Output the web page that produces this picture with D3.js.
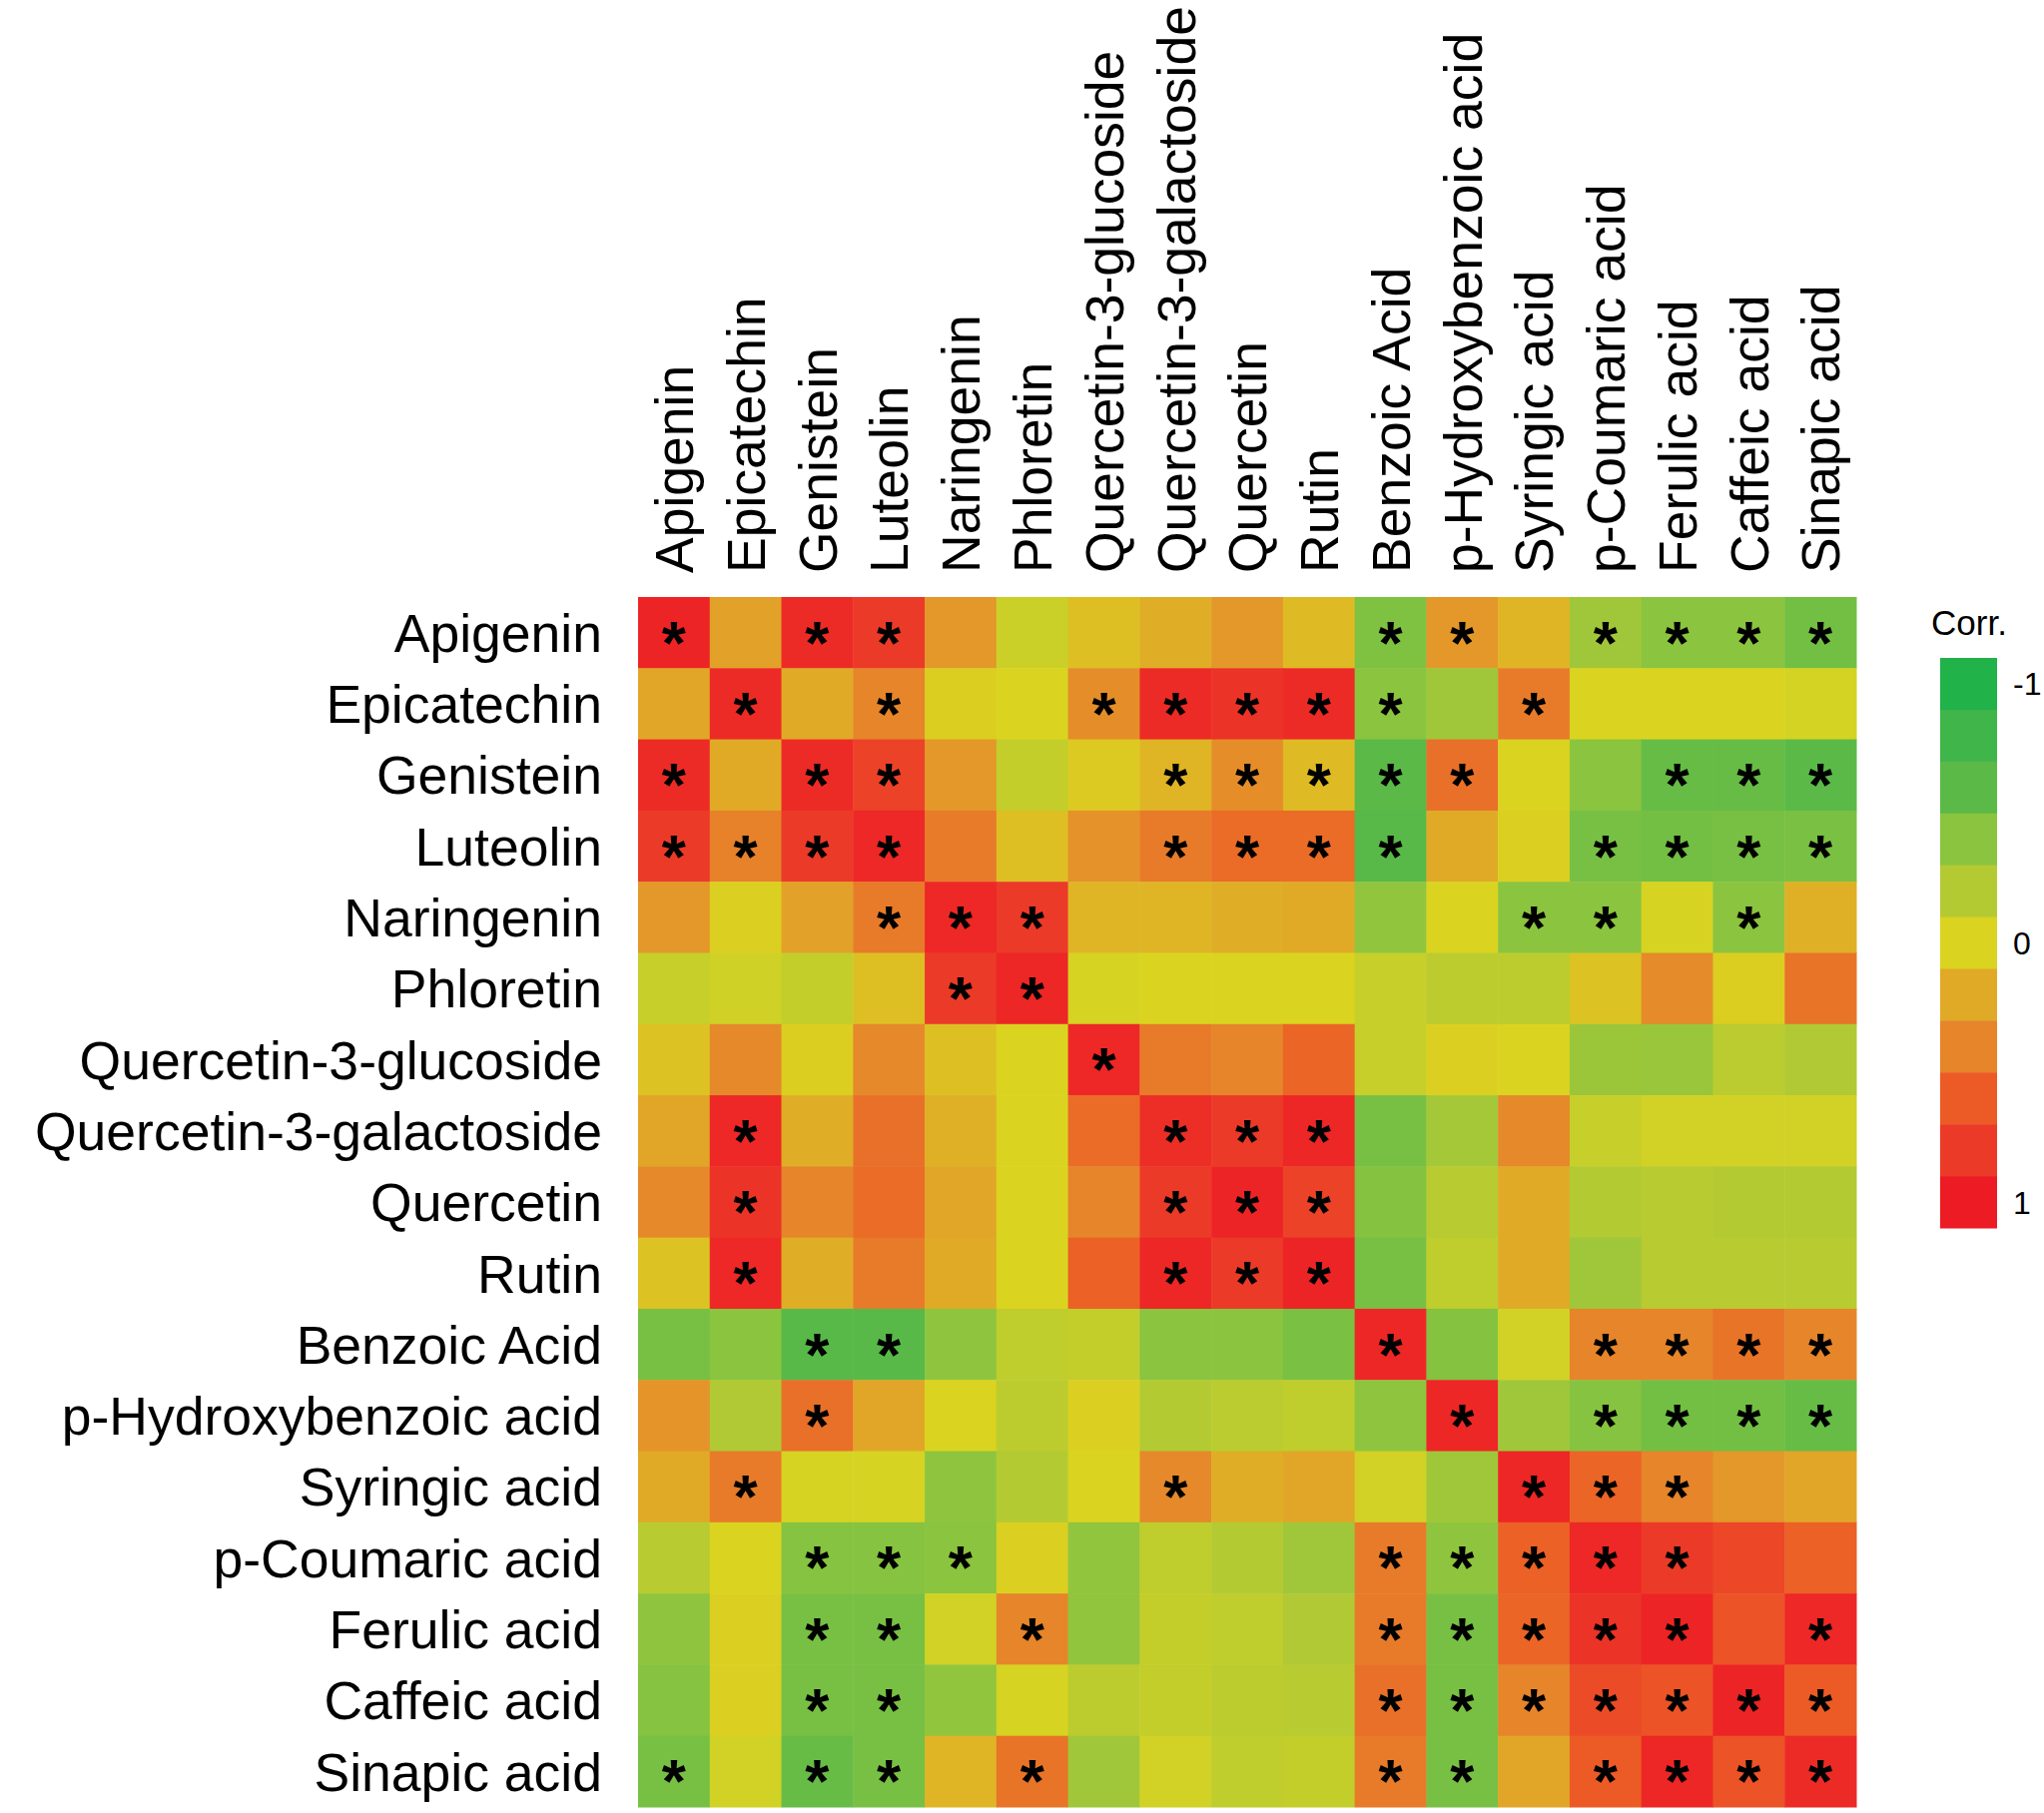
<!DOCTYPE html>
<html>
<head>
<meta charset="utf-8">
<script src="https://cdn.jsdelivr.net/npm/d3@7"></script>
<style>
  body { margin: 0; background: #fff; }
  text { font-family: "Liberation Sans", Arial, sans-serif; fill: #000; }
</style>
</head>
<body>
<div id="chart"></div>
<script>
const width = 2047;
const height = 1816;

const compounds = ['Apigenin', 'Epicatechin', 'Genistein', 'Luteolin', 'Naringenin', 'Phloretin',
  'Quercetin-3-glucoside', 'Quercetin-3-galactoside', 'Quercetin', 'Rutin', 'Benzoic Acid',
  'p-Hydroxybenzoic acid', 'Syringic acid', 'p-Coumaric acid', 'Ferulic acid', 'Caffeic acid', 'Sinapic acid'];

// correlation estimates, one row per compound (same column order)
const apigenin     = [0.95, 0.25, 0.9, 0.8, 0.3, -0.08, 0.1, 0.18, 0.3, 0.12, -0.45, 0.3, 0.15, -0.3, -0.4, -0.4, -0.5];
const epicatechin  = [0.22, 0.9, 0.2, 0.4, 0.03, 0, 0.35, 0.9, 0.85, 0.9, -0.4, -0.3, 0.45, 0, 0, 0, -0.03];
const genistein    = [0.9, 0.2, 0.9, 0.75, 0.3, -0.12, 0.05, 0.15, 0.35, 0.12, -0.6, 0.5, 0, -0.4, -0.55, -0.55, -0.6];
const luteolin     = [0.8, 0.42, 0.8, 0.92, 0.45, 0.1, 0.33, 0.45, 0.52, 0.52, -0.62, 0.2, 0.02, -0.48, -0.5, -0.48, -0.47];
const naringenin   = [0.3, 0.02, 0.25, 0.45, 0.92, 0.8, 0.15, 0.15, 0.18, 0.2, -0.37, 0, -0.4, -0.4, -0.02, -0.4, 0.17];
const phloretin    = [-0.1, -0.06, -0.12, 0.1, 0.8, 0.93, -0.02, 0, 0, 0, -0.1, -0.16, -0.16, 0.08, 0.37, 0.03, 0.48];
const q3glucoside  = [0.08, 0.38, 0.03, 0.38, 0.1, 0, 0.92, 0.45, 0.4, 0.55, -0.1, 0.02, 0, -0.32, -0.33, -0.17, -0.22];
const q3galactoside = [0.22, 0.92, 0.18, 0.5, 0.17, 0, 0.52, 0.88, 0.8, 0.93, -0.48, -0.28, 0.38, -0.1, -0.05, -0.05, -0.05];
const quercetin    = [0.38, 0.85, 0.4, 0.52, 0.22, 0, 0.4, 0.8, 0.95, 0.75, -0.43, -0.18, 0.2, -0.2, -0.18, -0.2, -0.2];
const rutin        = [0.08, 0.92, 0.18, 0.45, 0.2, 0, 0.57, 0.93, 0.8, 0.95, -0.48, -0.14, 0.2, -0.3, -0.18, -0.18, -0.18];
const benzoic      = [-0.48, -0.4, -0.62, -0.62, -0.38, -0.14, -0.12, -0.4, -0.4, -0.47, 0.93, -0.43, -0.05, 0.4, 0.4, 0.48, 0.4];
const hydroxybenz  = [0.32, -0.22, 0.5, 0.22, 0, -0.16, 0.02, -0.2, -0.17, -0.14, -0.38, 0.93, -0.3, -0.42, -0.5, -0.5, -0.55];
const syringic     = [0.2, 0.45, -0.02, -0.02, -0.38, -0.2, 0, 0.38, 0.18, 0.22, -0.05, -0.3, 0.93, 0.55, 0.4, 0.3, 0.22];
const coumaric     = [-0.18, 0, -0.42, -0.42, -0.4, 0.02, -0.37, -0.14, -0.2, -0.3, 0.45, -0.38, 0.57, 0.92, 0.8, 0.72, 0.57];
const ferulic      = [-0.38, 0.02, -0.48, -0.48, -0.05, 0.4, -0.37, -0.12, -0.14, -0.22, 0.45, -0.48, 0.55, 0.85, 0.95, 0.65, 0.92];
const caffeic      = [-0.42, 0.02, -0.48, -0.48, -0.37, -0.02, -0.16, -0.12, -0.16, -0.18, 0.5, -0.48, 0.4, 0.7, 0.65, 0.95, 0.6];
const sinapic      = [-0.48, -0.05, -0.55, -0.48, 0.15, 0.48, -0.3, -0.05, -0.14, -0.12, 0.45, -0.48, 0.22, 0.6, 0.93, 0.65, 0.9];

const corrRows = [apigenin, epicatechin, genistein, luteolin, naringenin, phloretin, q3glucoside,
  q3galactoside, quercetin, rutin, benzoic, hydroxybenz, syringic, coumaric, ferulic, caffeic, sinapic];

// significance marks (1 = asterisk)
const sigRows = [
  '10110000001101111',
  '01010011111010000',
  '10110001111100111',
  '11110001111001111',
  '00011100000011010',
  '00001100000000000',
  '00000010000000000',
  '01000001110000000',
  '01000001110000000',
  '01000001110000000',
  '00110000001001111',
  '00100000000101111',
  '01000001000011100',
  '00111000001111100',
  '00110100001111101',
  '00110000001111111',
  '10110100001101111'
];

const legendSteps = [-1, -0.8, -0.6, -0.4, -0.2, 0, 0.2, 0.4, 0.6, 0.8, 1];
const legendColors = ['#22b24a', '#3fb54a', '#5bb948', '#8bc43f', '#b4ca33', '#dad420',
  '#e0aa27', '#e6852a', '#ec5b25', '#ec3a28', '#ed1c24'];
const legendLabels = ['-1', '0', '1'];

const color = d3.scaleLinear()
  .domain(legendSteps)
  .range(legendColors)
  .clamp(true);

const x = d3.scaleBand()
  .domain(compounds)
  .range([639, 1859]);

const y = d3.scaleBand()
  .domain(compounds)
  .range([598, 1810]);

const svg = d3.select("#chart")
  .append("svg")
  .attr("width", width)
  .attr("height", height);

const cells = compounds.flatMap((row, i) => compounds.map((col, j) => ({
  row, col, value: corrRows[i][j], sig: sigRows[i][j] === '1'
})));

svg.append("g")
  .selectAll("rect")
  .data(cells)
  .enter()
  .append("rect")
  .attr("x", d => x(d.col))
  .attr("y", d => y(d.row))
  .attr("width", x.bandwidth() + 0.5)
  .attr("height", y.bandwidth() + 0.5)
  .attr("fill", d => color(d.value));

const starSize = 62;
svg.append("g")
  .selectAll("text")
  .data(cells.filter(d => d.sig))
  .enter()
  .append("text")
  .text("*")
  .attr("x", d => x(d.col) + x.bandwidth() / 2)
  .attr("y", d => y(d.row) + y.bandwidth() / 2 + starSize * 0.5)
  .attr("text-anchor", "middle")
  .style("font-size", `${starSize}px`)
  .style("font-weight", "bold");

const labelSize = 53.5;

// row labels
svg.append("g")
  .selectAll("text")
  .data(compounds)
  .enter()
  .append("text")
  .text(d => d)
  .attr("x", 603)
  .attr("y", d => y(d) + y.bandwidth() / 2)
  .attr("dy", "0.36em")
  .attr("text-anchor", "end")
  .style("font-size", `${labelSize}px`);

// column labels
svg.append("g")
  .selectAll("text")
  .data(compounds)
  .enter()
  .append("text")
  .text(d => d)
  .attr("transform", d => `translate(${x(d) + x.bandwidth() / 2}, 574) rotate(-90)`)
  .attr("dy", "0.36em")
  .attr("text-anchor", "start")
  .style("font-size", `${labelSize}px`);

// legend
const legendY = d3.scaleBand()
  .domain(legendSteps)
  .range([659, 1230]);

const legend = svg.append("g");

legend.selectAll("rect")
  .data(legendSteps)
  .enter()
  .append("rect")
  .attr("x", 1943)
  .attr("y", d => legendY(d))
  .attr("width", 57)
  .attr("height", legendY.bandwidth() + 0.5)
  .attr("fill", d => color(d));

legend.selectAll("text.tick")
  .data(legendLabels)
  .enter()
  .append("text")
  .attr("class", "tick")
  .text(d => d)
  .attr("x", 2016)
  .attr("y", d => legendY(+d) + legendY.bandwidth() / 2)
  .attr("dy", "0.36em")
  .style("font-size", "32px");

legend.append("text")
  .text("Corr.")
  .attr("x", 1972)
  .attr("y", 636)
  .attr("text-anchor", "middle")
  .style("font-size", "35px");
</script>
</body>
</html>
